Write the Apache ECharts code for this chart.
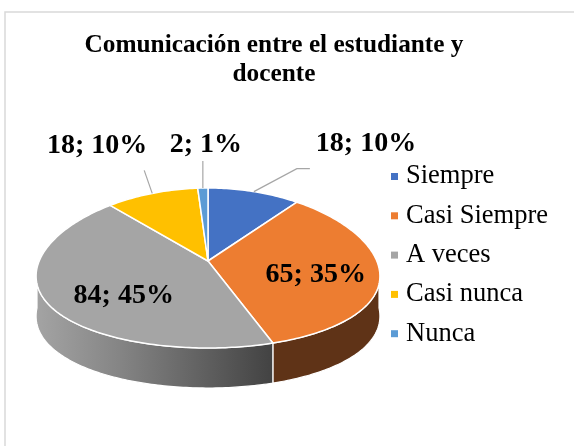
<!DOCTYPE html>
<html><head><meta charset="utf-8">
<script src="https://cdn.jsdelivr.net/npm/echarts@6/dist/echarts.min.js"></script>
<style>html,body{margin:0;padding:0;background:#fff}#c{width:574px;height:446px}</style>
</head><body><div id="c"></div>
<script>
// ---- data ----
const categories = ['Siempre', 'Casi Siempre', 'A veces', 'Casi nunca', 'Nunca'];
const values = [18, 65, 84, 18, 2];
const titleText = 'Comunicación entre el estudiante y\ndocente';

// ---- styles / layout ----
const SERIF = '"Liberation Serif", "Times New Roman", serif';
const topColors = ['#4472C4', '#ED7D31', '#A5A5A5', '#FFC000', '#5B9BD5'];
const sideFills = [
  '#2d4d86',
  '#5f3317',
  new echarts.graphic.LinearGradient(0, 0, 1, 0, [
    {offset: 0, color: '#a4a4a4'}, {offset: 0.35, color: '#858585'}, {offset: 1, color: '#424242'}]),
  '#ad8200',
  '#3a6a96'
];
const G = {cx: 208, cy: 268, rx: 171, ry: 80, depth: 40, persp: 0.0013, vertexDy: -7};
const labelLayout = [
  {type: 'out', lead: [43, -23], elbow: 13, align: 'left', tx: 19, ty: -25},
  {type: 'in', r: 0.63, dy: 0},
  {type: 'in', r: 0.55, dy: 6},
  {type: 'out', lead: [-8, -23], elbow: 0, align: 'right', tx: 3, ty: -25},
  {type: 'out', lead: [0, -27], elbow: 0, align: 'center', tx: 3, ty: -16}
];
const labelFont = 'bold 28px ' + SERIF;

const total = values.reduce((a, b) => a + b, 0);
const starts = [];
let acc = 0;
values.forEach(v => { starts.push(acc / total * Math.PI * 2); acc += v; });
const ends = values.map((v, i) => starts[i] + v / total * Math.PI * 2);

function pt(a, r, dy) {
  r = r == null ? 1 : r; dy = dy || 0;
  const x = G.rx * r * Math.sin(a);
  const y = -G.ry * r * Math.cos(a);
  const f = 1 + G.persp * y;
  return [G.cx + x * f, G.cy + y + dy];
}
function arc(a0, a1, dy) {
  const n = Math.max(2, Math.ceil(Math.abs(a1 - a0) / (Math.PI / 180)));
  const out = [];
  for (let k = 0; k <= n; k++) out.push(pt(a0 + (a1 - a0) * k / n, 1, dy));
  return out;
}

function renderSide(params, api) {
  const i = params.dataIndex;
  const s = Math.max(starts[i], Math.PI / 2), e = Math.min(ends[i], Math.PI * 1.5);
  if (s >= e) return {type: 'group', children: []};
  const pts = arc(s, e, 0).concat(arc(e, s, G.depth));
  return {type: 'polygon', shape: {points: pts},
    style: {fill: sideFills[i], stroke: '#fff', lineWidth: 1.2, lineJoin: 'round'}};
}

function renderTop(params, api) {
  const i = params.dataIndex;
  const v = api.value(0);
  const vertex = [G.cx, G.cy + G.vertexDy];
  const pts = [vertex].concat(arc(starts[i], ends[i], 0));
  const children = [{type: 'polygon', shape: {points: pts},
    style: {fill: topColors[i], stroke: '#fff', lineWidth: 1.5, lineJoin: 'round'}}];
  const mid = (starts[i] + ends[i]) / 2;
  const text = v + '; ' + Math.round(v / total * 100) + '%';
  const L = labelLayout[i];
  if (L.type === 'in') {
    const p = pt(mid, L.r, L.dy);
    children.push({type: 'text', z2: 10, style: {text: text, x: p[0], y: p[1], fill: '#000',
      font: labelFont, align: 'center', verticalAlign: 'middle'}});
  } else {
    const e = pt(mid, 1, 0);
    const l = [e[0] + L.lead[0], e[1] + L.lead[1]];
    const line = [e, l];
    if (L.elbow) line.push([l[0] + L.elbow, l[1]]);
    children.push({type: 'polyline', shape: {points: line},
      style: {stroke: '#a6a6a6', lineWidth: 1.2, fill: null}});
    children.push({type: 'text', z2: 10, style: {text: text, x: l[0] + L.tx, y: l[1] + L.ty, fill: '#000',
      font: labelFont, align: L.align, verticalAlign: 'middle'}});
  }
  return {type: 'group', children: children};
}

const chart = echarts.init(document.getElementById('c'), null, {renderer: 'canvas'});
const dataItems = values.map((v, i) => ({name: categories[i], value: v}));
chart.setOption({
  animation: false,
  backgroundColor: '#fff',
  title: {
    text: titleText, left: 274, textAlign: 'center', top: 31, padding: 0,
    textStyle: {fontFamily: SERIF, fontWeight: 'bold', fontSize: 25.3, lineHeight: 29, color: '#000'}
  },
  legend: {
    data: categories, orient: 'vertical', left: 391, top: 163, padding: 0,
    itemWidth: 7, itemHeight: 7, itemGap: 12.3,
    icon: 'rect', selectedMode: false,
    textStyle: {fontFamily: SERIF, fontSize: 26.5, lineHeight: 25, color: '#000', padding: [0, 0, 0, 3]}
  },
  graphic: [{type: 'rect', z: -1, shape: {x: 5, y: 12, width: 620, height: 500},
    style: {fill: 'none', stroke: '#d9d9d9', lineWidth: 1.5}}],
  series: [
    {type: 'pie', name: 'legend', center: [-300, -300], radius: 1, silent: true,
      label: {show: false}, labelLine: {show: false},
      data: values.map((v, i) => ({name: categories[i], value: v, itemStyle: {color: topColors[i]}}))},
    {type: 'custom', name: 'sides', coordinateSystem: 'none', z: 1, silent: true,
      renderItem: renderSide, data: dataItems},
    {type: 'custom', name: 'tops', coordinateSystem: 'none', z: 2, silent: true,
      renderItem: renderTop, data: dataItems}
  ]
});
</script></body></html>
